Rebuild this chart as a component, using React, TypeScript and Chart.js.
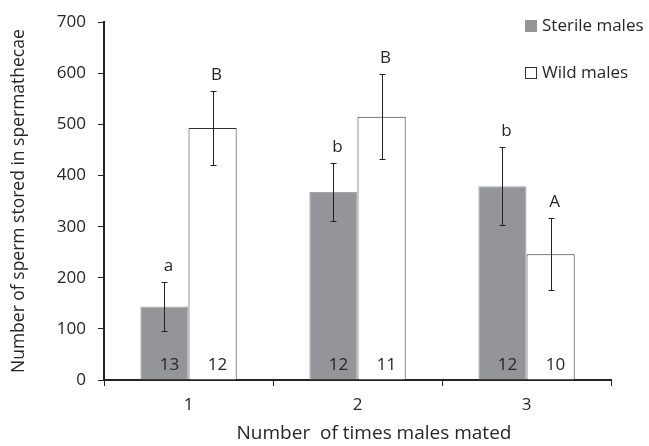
import React, { useEffect, useRef } from "react";
import { Chart, registerables } from "chart.js";

Chart.register(...registerables);

const categories = ["1", "2", "3"];
const sterileValues = [144, 368, 379];
const wildValues = [493, 515, 246];
const sterileErrors = [48, 56, 76];
const wildErrors = [73, 83, 70];
const sterileLetters = ["a", "b", "b"];
const wildLetters = ["B", "B", "A"];
const sterileCounts = ["13", "12", "12"];
const wildCounts = ["12", "11", "10"];
const yTicks = [0, 100, 200, 300, 400, 500, 600, 700];
const xTitle = "Number  of times males mated";
const yTitle = "Number of sperm stored in spermathecae";

const FONT = "'Open Sans', 'Noto Sans', sans-serif";
const TEXT = "#262626";
const GRAY = "#939598";

const errorPlugin = {
  id: "errorAnnot",
  afterDatasetsDraw(chart: any) {
    const ctx = chart.ctx;
    const y = chart.scales.y;
    const sets = [
      { vals: sterileValues, errs: sterileErrors, letters: sterileLetters, counts: sterileCounts },
      { vals: wildValues, errs: wildErrors, letters: wildLetters, counts: wildCounts },
    ];
    sets.forEach((s, di) => {
      const meta = chart.getDatasetMeta(di);
      meta.data.forEach((bar: any, i: number) => {
        const cx = bar.x;
        const top = y.getPixelForValue(s.vals[i] + s.errs[i]);
        const bot = y.getPixelForValue(s.vals[i] - s.errs[i]);
        ctx.save();
        ctx.strokeStyle = "#222";
        ctx.lineWidth = 1;
        ctx.beginPath();
        const x = Math.round(cx) + 0.5;
        ctx.moveTo(x, Math.round(top) + 0.5);
        ctx.lineTo(x, Math.round(bot) + 0.5);
        ctx.moveTo(x - 3, Math.round(top) + 0.5);
        ctx.lineTo(x + 3, Math.round(top) + 0.5);
        ctx.moveTo(x - 3, Math.round(bot) + 0.5);
        ctx.lineTo(x + 3, Math.round(bot) + 0.5);
        ctx.stroke();
        ctx.fillStyle = TEXT;
        ctx.font = `17px ${FONT}`;
        ctx.textAlign = "center";
        ctx.textBaseline = "alphabetic";
        ctx.fillText(s.letters[i], cx + 4, top - 11);
        ctx.textBaseline = "middle";
        ctx.fillText(s.counts[i], cx + 5, y.getPixelForValue(0) - 15);
        ctx.restore();
      });
    });
  },
};

const legendPlugin = {
  id: "customLegend",
  afterDraw(chart: any) {
    const ctx = chart.ctx;
    const items = [
      { label: "Sterile males", fill: GRAY, stroke: GRAY, y: 26 },
      { label: "Wild males", fill: "#ffffff", stroke: "#333", y: 73 },
    ];
    ctx.save();
    items.forEach((it) => {
      ctx.fillStyle = it.fill;
      ctx.fillRect(525, it.y - 6, 12, 12);
      ctx.strokeStyle = it.stroke;
      ctx.lineWidth = 1;
      ctx.strokeRect(525.5, it.y - 5.5, 11, 11);
      ctx.fillStyle = TEXT;
      ctx.font = `17px ${FONT}`;
      ctx.textAlign = "left";
      ctx.textBaseline = "middle";
      ctx.fillText(it.label, 542, it.y);
    });
    // x-axis title
    ctx.font = `19px ${FONT}`;
    ctx.textAlign = "center";
    ctx.textBaseline = "middle";
    ctx.fillStyle = TEXT;
    ctx.fillText(xTitle, 374, 434);
    ctx.restore();
  },
};

export default function App() {
  const ref = useRef<HTMLCanvasElement>(null);
  useEffect(() => {
    document.body.style.margin = "0";
    const chart = new Chart(ref.current!, {
      type: "bar",
      data: {
        labels: categories,
        datasets: [
          {
            label: "Sterile males",
            data: sterileValues,
            backgroundColor: GRAY,
            borderColor: "#a3a5a8",
            borderWidth: 1,
            categoryPercentage: 0.57,
            barPercentage: 1,
          },
          {
            label: "Wild males",
            data: wildValues,
            backgroundColor: "#ffffff",
            borderColor: "#2e2e2e",
            borderWidth: 1,
            categoryPercentage: 0.57,
            barPercentage: 1,
          },
        ],
      },
      options: {
        responsive: false,
        animation: false,
        layout: { padding: { top: 22, right: 38, left: 0, bottom: 0 } },
        plugins: { legend: { display: false }, tooltip: { enabled: false } },
        scales: {
          x: {
            offset: true,
            grid: { drawOnChartArea: false, tickLength: 6, color: "#222", offset: true },
            border: { color: "#222", width: 2 },
            ticks: { color: TEXT, font: { family: FONT, size: 17 }, padding: 9 },
            afterFit(scale: any) {
              scale.height = 66;
            },
          },
          y: {
            min: 0,
            max: 700,
            afterBuildTicks(scale: any) {
              scale.ticks = yTicks.map((v) => ({ value: v }));
            },
            grid: { drawOnChartArea: false, tickLength: 6, color: "#222" },
            border: { color: "#222", width: 2 },
            ticks: { color: TEXT, font: { family: FONT, size: 17 }, padding: 12 },
            title: {
              display: true,
              text: yTitle,
              color: TEXT,
              font: { family: FONT, size: 17.5 },
              padding: { top: 9, bottom: 0 },
            },
            afterFit(scale: any) {
              scale.width = 104;
            },
          },
        },
      },
      plugins: [errorPlugin, legendPlugin],
    });
    return () => chart.destroy();
  }, []);
  return (
    <div style={{ width: 649, height: 446 }}>
      <canvas ref={ref} width={649} height={446} />
    </div>
  );
}
